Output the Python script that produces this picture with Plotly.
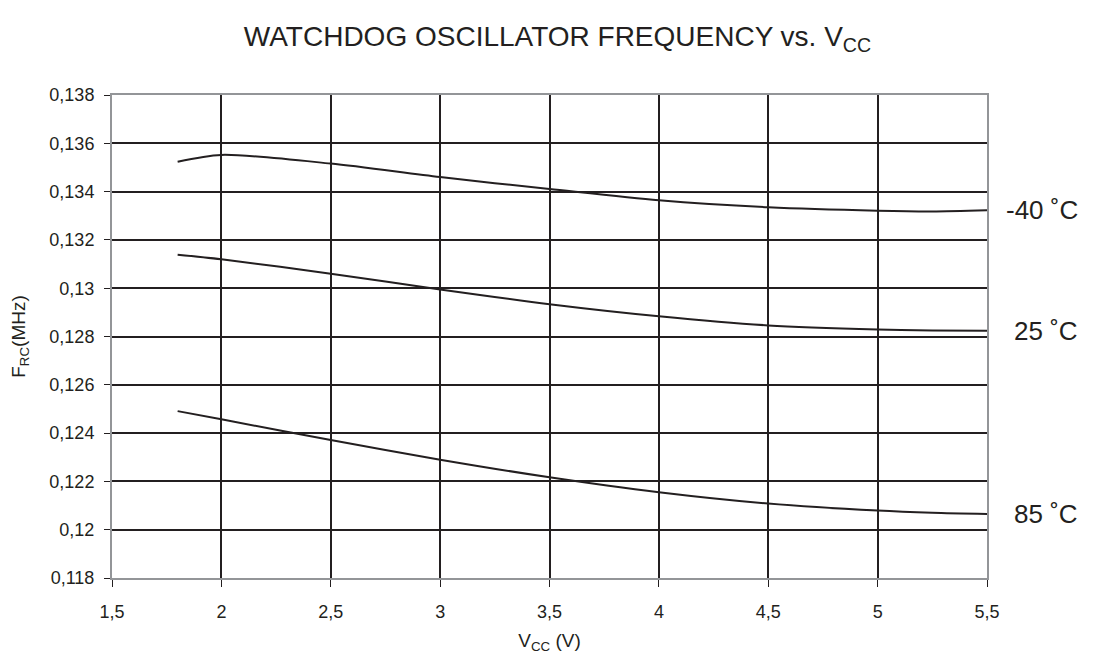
import plotly.graph_objects as go

# Supply voltage (V)
vcc = [1.8, 2.0, 2.5, 3.0, 3.5, 4.0, 4.5, 5.0, 5.25, 5.5]

# Watchdog oscillator frequency (MHz) per temperature
f_m40 = [0.13524, 0.13552, 0.13516, 0.13460, 0.13411, 0.13364, 0.13335, 0.13321, 0.13318, 0.13323]
f_25 = [0.13139, 0.13120, 0.13060, 0.12995, 0.12934, 0.12884, 0.12846, 0.12829, 0.12825, 0.12824]
f_85 = [0.12491, 0.12457, 0.12371, 0.12290, 0.12217, 0.12155, 0.12108, 0.12079, 0.12070, 0.12065]

series = [("-40 ˚C", f_m40), ("25 ˚C", f_25), ("85 ˚C", f_85)]

x_ticks = [1.5, 2, 2.5, 3, 3.5, 4, 4.5, 5, 5.5]
y_ticks = [0.118, 0.12, 0.122, 0.124, 0.126, 0.128, 0.13, 0.132, 0.134, 0.136, 0.138]

font_family = "Liberation Sans, Arial, sans-serif"
ink = "#231f20"

fig = go.Figure()
for name, vals in series:
    fig.add_trace(go.Scatter(
        x=vcc, y=vals, name=name, mode="lines",
        line=dict(color=ink, width=2, shape="spline", smoothing=0.8),
        showlegend=False
    ))
    # label at the right end of each curve
    fig.add_annotation(
        x=1.106, xref="paper", xanchor="right",
        y=vals[-1], yref="y", yanchor="middle",
        text=name, showarrow=False,
        font=dict(size=26, color=ink, family=font_family)
    )

fig.update_layout(
    width=1099, height=659,
    paper_bgcolor="white", plot_bgcolor="white",
    margin=dict(l=104, r=120, t=87, b=89),
    separators=", ",
    font=dict(family=font_family, color=ink, size=18),
    title=dict(
        text="WATCHDOG OSCILLATOR FREQUENCY vs. V<sub>CC</sub>",
        x=0.5, xanchor="center", y=0.957, yanchor="middle",
        font=dict(size=28, color=ink)
    )
)

fig.update_xaxes(
    range=[1.5, 5.5], tickvals=x_ticks,
    showgrid=True, gridcolor=ink, gridwidth=2,
    showline=True, linecolor="#939598", linewidth=2, mirror=True,
    ticks="outside", ticklen=7, tickcolor=ink, tickwidth=1,
    ticklabelstandoff=9, automargin=False,
    zeroline=False,
    title=dict(text="V<sub>CC</sub> (V)", font=dict(size=19), standoff=13)
)
fig.update_yaxes(
    range=[0.118, 0.138], tickvals=y_ticks, tickformat=".3~f",
    showgrid=True, gridcolor=ink, gridwidth=2,
    showline=True, linecolor="#939598", linewidth=2, mirror=True,
    ticks="outside", ticklen=6, tickcolor=ink, tickwidth=1,
    ticklabelstandoff=6, automargin=False,
    zeroline=False,
    title=dict(text="F<sub>RC</sub>(MHz)", font=dict(size=19), standoff=22)
)

fig.write_html("out.html")
